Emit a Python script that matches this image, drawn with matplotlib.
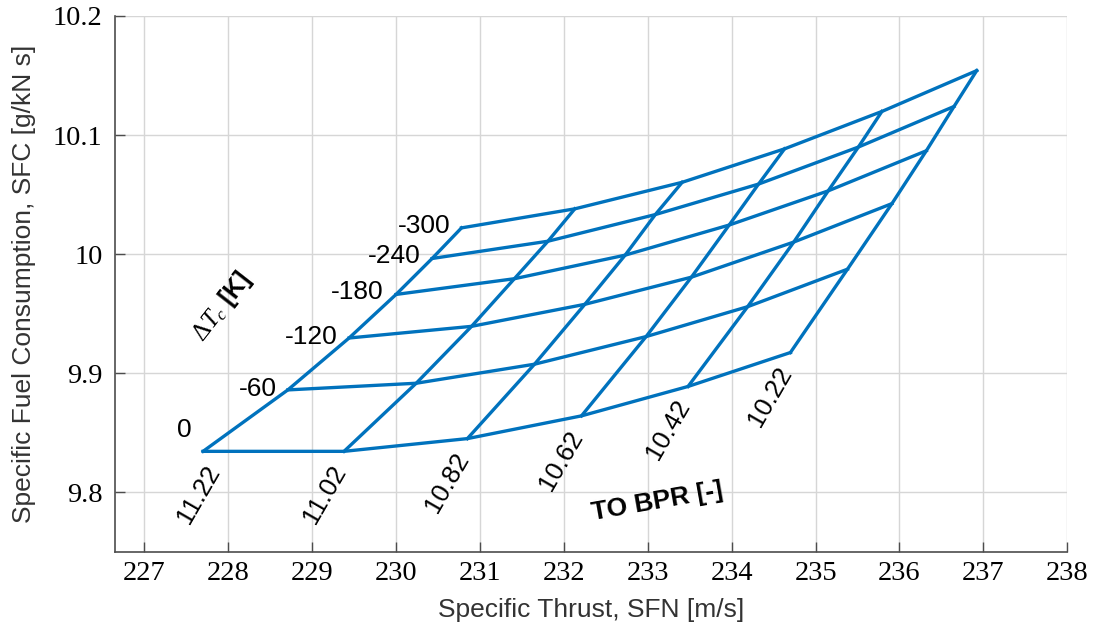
import matplotlib
matplotlib.use("Agg")
import matplotlib.pyplot as plt

plt.rcParams["font.family"] = ["Liberation Sans", "DejaVu Sans"]
plt.rcParams["mathtext.fontset"] = "custom"
plt.rcParams["mathtext.it"] = "Liberation Serif:italic"
plt.rcParams["mathtext.rm"] = "Liberation Serif"
plt.rcParams["mathtext.bf"] = "Liberation Sans:bold"

# Carpet parameters
bpr = [11.22, 11.02, 10.82, 10.62, 10.42, 10.22]
dtc = [0, -60, -120, -180, -240, -300]

# Specific thrust [m/s] for each delta-T_c row (columns follow bpr)
sfn_0 = [227.70, 229.38, 230.85, 232.21, 233.48, 234.70]
sfn_m60 = [228.71, 230.24, 231.65, 232.98, 234.19, 235.38]
sfn_m120 = [229.44, 230.90, 232.25, 233.52, 234.74, 235.91]
sfn_m180 = [230.00, 231.41, 232.73, 233.97, 235.15, 236.32]
sfn_m240 = [230.43, 231.81, 233.09, 234.32, 235.51, 236.65]
sfn_m300 = [230.78, 232.13, 233.41, 234.63, 235.79, 236.92]

# Specific fuel consumption [g/kN s] for each delta-T_c row
sfc_0 = [9.8343, 9.8343, 9.8450, 9.8641, 9.8888, 9.9173]
sfc_m60 = [9.8859, 9.8915, 9.9075, 9.9307, 9.9558, 9.9873]
sfc_m120 = [9.9295, 9.9393, 9.9578, 9.9806, 10.0101, 10.0424]
sfc_m180 = [9.9661, 9.9793, 9.9991, 10.0244, 10.0531, 10.0868]
sfc_m240 = [9.9963, 10.0108, 10.0332, 10.0588, 10.0899, 10.1240]
sfc_m300 = [10.0220, 10.0380, 10.0603, 10.0884, 10.1198, 10.1541]

sfn = [sfn_0, sfn_m60, sfn_m120, sfn_m180, sfn_m240, sfn_m300]
sfc = [sfc_0, sfc_m60, sfc_m120, sfc_m180, sfc_m240, sfc_m300]

x_ticks = list(range(227, 239))
y_ticks = [9.8, 9.9, 10.0, 10.1, 10.2]
y_tick_labels = ["9.8", "9.9", "10", "10.1", "10.2"]

blue = "#0072BD"
axis_grey = "#4d4d4d"

fig = plt.figure(figsize=(10.94, 6.27), dpi=100)
ax = fig.add_axes([0.1051, 0.1201, 0.8705, 0.8544])

# constant delta-T_c lines
for xs, ys in zip(sfn, sfc):
    ax.plot(xs, ys, color=blue, lw=2.4, solid_joinstyle="miter", zorder=3)
# constant BPR lines
for j in range(len(bpr)):
    ax.plot([row[j] for row in sfn], [row[j] for row in sfc],
            color=blue, lw=2.4, solid_joinstyle="miter", zorder=3)

ax.set_xlim(226.65, 238)
ax.set_ylim(9.75, 10.2)
ax.set_xticks(x_ticks)
ax.set_yticks(y_ticks)
ax.set_yticklabels(y_tick_labels)
for lab in ax.get_xticklabels() + ax.get_yticklabels():
    lab.set_fontfamily("Liberation Serif")
    lab.set_fontsize(20.5)

ax.grid(True, color="#d6d6d6", lw=1.0, zorder=0)
ax.set_axisbelow(True)
for side in ("top", "right"):
    ax.spines[side].set_visible(False)
for side in ("left", "bottom"):
    ax.spines[side].set_color(axis_grey)
    ax.spines[side].set_linewidth(1.2)
ax.tick_params(direction="in", length=7, width=1.0, color=axis_grey, labelcolor="black")
ax.tick_params(axis="y", pad=9)
ax.tick_params(axis="x", pad=7)

ax.set_xlabel("Specific Thrust, SFN [m/s]", fontsize=19, color="#333333", labelpad=8)
ax.set_ylabel("Specific Fuel Consumption, SFC [g/kN s]", fontsize=19, color="#333333", labelpad=12)

# delta-T_c labels at the start of each row
dtc_offsets = [(-11, 21), (-11, 1), (-11, 1), (-13, 2), (-12, 2), (-11, 2)]
for i, t in enumerate(dtc):
    ax.annotate(f"{t}", xy=(sfn[i][0], sfc[i][0]), xytext=dtc_offsets[i],
                textcoords="offset pixels", ha="right", va="center", fontsize=19)

# BPR labels below the bottom row
bpr_offsets = [(11, -16), (-4, -16), (-4, -16), (-4, -17), (-4, -15), (-4, -16)]
for j, b in enumerate(bpr):
    ax.annotate(f"{b:.2f}", xy=(sfn_0[j], sfc_0[j]), xytext=bpr_offsets[j],
                textcoords="offset pixels", ha="right", va="center",
                rotation=60, rotation_mode="anchor", fontsize=18.5)

ax.text(0.570, 0.093, "TO BPR [-]", transform=ax.transAxes, rotation=10,
        ha="center", va="center", fontsize=19, fontweight="bold")
ax.text(0.112, 0.457, r"$\mathit{\Delta T_c}$ [K]", transform=ax.transAxes, rotation=52,
        ha="center", va="center", fontsize=18, fontweight="bold")

fig.savefig("out.png", dpi=100)
